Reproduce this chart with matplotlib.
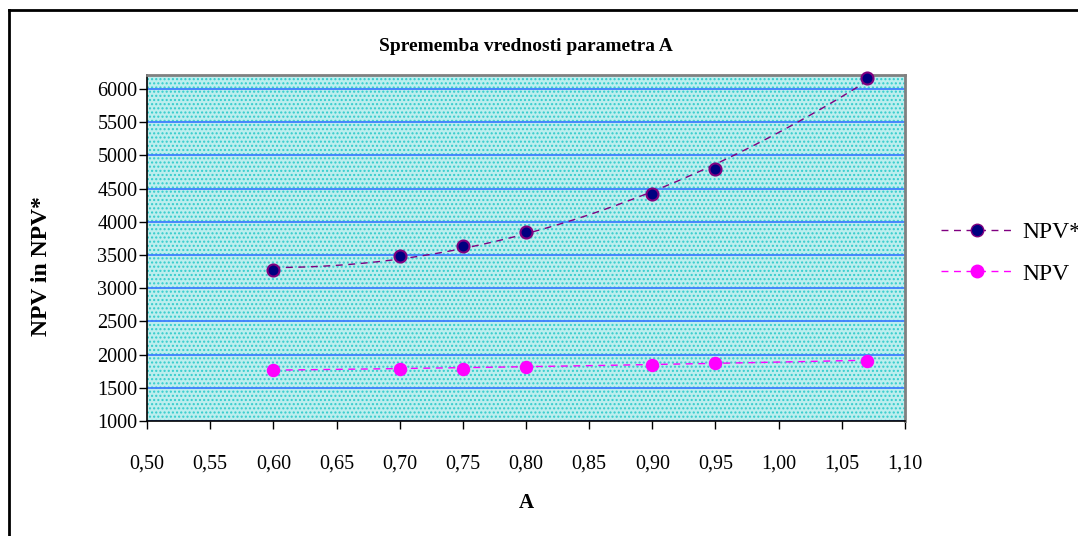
import numpy as np
import matplotlib.pyplot as plt
from matplotlib.lines import Line2D
from matplotlib.patches import Rectangle
from matplotlib.ticker import FixedLocator, FuncFormatter

a_values = [0.60, 0.70, 0.75, 0.80, 0.90, 0.95, 1.07]
npv_star = [3270, 3480, 3630, 3850, 4420, 4800, 6160]
npv = [1770, 1790, 1790, 1820, 1850, 1880, 1910]
x_ticks = [0.50, 0.55, 0.60, 0.65, 0.70, 0.75, 0.80, 0.85, 0.90, 0.95, 1.00, 1.05, 1.10]
y_ticks = [1000, 1500, 2000, 2500, 3000, 3500, 4000, 4500, 5000, 5500, 6000]

plt.rcParams["font.family"] = ["Liberation Serif", "DejaVu Serif"]

W, H = 1078, 536
fig = plt.figure(figsize=(W / 100, H / 100), dpi=100)
ax = fig.add_axes([147 / W, 1 - 421 / H, (905 - 147) / W, (421 - 75) / H])

# dotted cyan background
ax.set_facecolor("white")
ax.add_patch(Rectangle((0, 0), 1, 1, transform=ax.transAxes, facecolor="#bdeeee",
                       hatch="....", edgecolor="#33cccc", linewidth=0, zorder=0))

ax.set_xlim(0.50, 1.10)
ax.set_ylim(1000, 6210)
ax.yaxis.set_major_locator(FixedLocator(y_ticks))
ax.xaxis.set_major_locator(FixedLocator(x_ticks))
ax.xaxis.set_major_formatter(FuncFormatter(lambda v, p: f"{v:.2f}".replace(".", ",")))
ax.tick_params(direction="out", length=6, width=1, labelsize=14.5, colors="black")
ax.tick_params(axis="x", pad=18)
ax.tick_params(axis="y", pad=1)
ax.grid(axis="y", color="#3f7fff", linewidth=1.3, zorder=1)
ax.set_axisbelow(True)

for s in ["top", "right"]:
    ax.spines[s].set_color("#808080")
    ax.spines[s].set_linewidth(2)
for s in ["left", "bottom"]:
    ax.spines[s].set_color("black")
    ax.spines[s].set_linewidth(1.2)

# polynomial trendlines through the points
xs = np.linspace(a_values[0], a_values[-1], 200)
fit_star = np.polyval(np.polyfit(a_values, npv_star, 2), xs)
fit_npv = np.polyval(np.polyfit(a_values, npv, 2), xs)
ax.plot(xs, fit_star, color="#800080", linestyle=(0, (5, 4)), linewidth=1, zorder=3)
ax.plot(xs, fit_npv, color="#ff00ff", linestyle=(0, (5, 4)), linewidth=1, zorder=3)

ax.scatter(a_values, npv_star, s=75, color="#000080", edgecolor="#800080", linewidth=1.5, zorder=4,
           clip_on=False)
ax.scatter(a_values, npv, s=75, color="#ff00ff", edgecolor="#ff00ff", linewidth=1, zorder=4)

ax.set_title("Sprememba vrednosti parametra A", fontsize=14, fontweight="bold", pad=17)
ax.set_xlabel("A", fontsize=15, fontweight="bold", labelpad=14)
ax.set_ylabel("NPV in NPV*", fontsize=17, fontweight="bold")
ax.yaxis.set_label_coords((52 - 147) / (905 - 147), (421 - 266) / (421 - 75))

handles = [
    Line2D([0], [0], color="#800080", linestyle=(0, (5, 4)), linewidth=1, marker="o",
           markersize=9, markerfacecolor="#000080", markeredgecolor="#800080"),
    Line2D([0], [0], color="#ff00ff", linestyle=(0, (5, 4)), linewidth=1, marker="o",
           markersize=9, markerfacecolor="#ff00ff", markeredgecolor="#ff00ff"),
]
fig.legend(handles, ["NPV*", "NPV"], loc="center left", bbox_to_anchor=(920 / W, 1 - 253 / H),
           frameon=False, fontsize=17, handlelength=3.0, labelspacing=0.85, handletextpad=0.45)

# outer chart border
fig.add_artist(Line2D([9 / W, 1.0], [1 - 10 / H, 1 - 10 / H], color="black", linewidth=2))
fig.add_artist(Line2D([9 / W, 9 / W], [1 - 10 / H, 0.0], color="black", linewidth=2))

fig.savefig("out.png", dpi=100)
